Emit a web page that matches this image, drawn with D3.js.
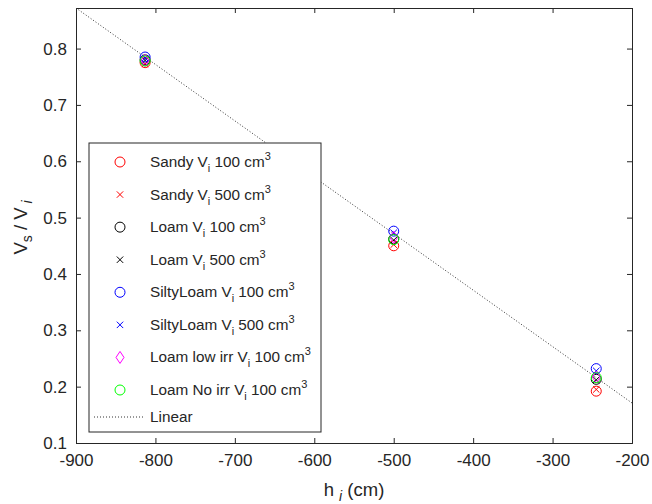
<!DOCTYPE html>
<html>
<head>
<meta charset="utf-8">
<script src="https://cdn.jsdelivr.net/npm/d3@7"></script>
<style>
  body { margin: 0; background: #fff; }
  text { font-family: "Liberation Sans", Arial, sans-serif; fill: #262626; }
</style>
</head>
<body>
<div id="chart"></div>
<script>
// data
const hValues = [-813, -500, -245];
const sandy100 = [0.775, 0.450, 0.192];
const sandy500 = [0.773, 0.452, 0.195];
const loam100 = [0.780, 0.462, 0.213];
const loam500 = [0.779, 0.460, 0.212];
const silty100 = [0.785, 0.476, 0.232];
const silty500 = [0.783, 0.473, 0.228];
const loamLow100 = [0.779, 0.465, 0.217];
const loamNo100 = [0.778, 0.461, 0.216];
const linearX = [-900, -200];
const linearY = [0.872, 0.171];
const xTicks = [-900, -800, -700, -600, -500, -400, -300, -200];
const yTicks = [0.1, 0.2, 0.3, 0.4, 0.5, 0.6, 0.7, 0.8];

const series = [
    { name: "Sandy", vol: "100", values: sandy100, color: "#ff0000", marker: "circle" },
    { name: "Sandy", vol: "500", values: sandy500, color: "#ff0000", marker: "cross" },
    { name: "Loam", vol: "100", values: loam100, color: "#000000", marker: "circle" },
    { name: "Loam", vol: "500", values: loam500, color: "#000000", marker: "cross" },
    { name: "SiltyLoam", vol: "100", values: silty100, color: "#0000ff", marker: "circle" },
    { name: "SiltyLoam", vol: "500", values: silty500, color: "#0000ff", marker: "cross" },
    { name: "Loam low irr", vol: "100", values: loamLow100, color: "#ff00ff", marker: "diamond" },
    { name: "Loam No irr", vol: "100", values: loamNo100, color: "#00ff00", marker: "circle" }
];

const width = 652, height = 504;
const margin = { top: 8, right: 20, bottom: 61, left: 76 };
const plotW = width - margin.left - margin.right;
const plotH = height - margin.top - margin.bottom;

const svg = d3.select("#chart").append("svg")
    .attr("width", width)
    .attr("height", height);

const plot = svg.append("g")
    .attr("transform", `translate(${margin.left},${margin.top})`);

const x = d3.scaleLinear().domain([-900, -200]).range([0, plotW]);
const y = d3.scaleLinear().domain([0.1, 0.872]).range([plotH, 0]);

svg.append("defs").append("clipPath").attr("id", "clip")
    .append("rect").attr("width", plotW).attr("height", plotH);

function drawMarker(g, type, cx, cy, color) {
    if (type === "circle") {
        g.append("circle").attr("cx", cx).attr("cy", cy).attr("r", 5)
            .attr("fill", "none").attr("stroke", color).attr("stroke-width", 1);
    } else if (type === "cross") {
        const s = 3.2;
        g.append("path")
            .attr("d", `M${cx - s},${cy - s}L${cx + s},${cy + s}M${cx - s},${cy + s}L${cx + s},${cy - s}`)
            .attr("stroke", color).attr("stroke-width", 1).attr("fill", "none");
    } else if (type === "diamond") {
        const s = 6;
        g.append("path")
            .attr("d", `M${cx},${cy - s}L${cx + 4},${cy}L${cx},${cy + s}L${cx - 4},${cy}Z`)
            .attr("stroke", color).attr("stroke-width", 1).attr("fill", "none");
    }
}

// axes (ticks inward, box on)
const tickLen = 5;
plot.append("g")
    .attr("transform", `translate(0,${plotH})`)
    .call(d3.axisBottom(x).tickValues(xTicks).tickSize(-tickLen).tickPadding(11).tickFormat(d => String(d)))
    .call(g => g.selectAll("text").attr("dy", "0.71em"));
plot.append("g")
    .call(d3.axisTop(x).tickValues(xTicks).tickSize(-tickLen).tickFormat(""));
plot.append("g")
    .call(d3.axisLeft(y).tickValues(yTicks).tickSize(-tickLen).tickPadding(9).tickFormat(d => d.toFixed(1)));
plot.append("g")
    .attr("transform", `translate(${plotW},0)`)
    .call(d3.axisRight(y).tickValues(yTicks).tickSize(-tickLen).tickFormat(""));
plot.selectAll(".domain, .tick line").attr("stroke", "#262626").attr("stroke-width", 1);
plot.selectAll(".tick text").attr("fill", "#262626").attr("font-size", 17)
    .attr("font-family", "Liberation Sans, Arial, sans-serif");

// linear fit
const data = plot.append("g").attr("clip-path", "url(#clip)");
data.append("path")
    .datum(linearX.map((d, i) => [d, linearY[i]]))
    .attr("d", d3.line().x(d => x(d[0])).y(d => y(d[1])))
    .attr("fill", "none").attr("stroke", "#333").attr("stroke-width", 1)
    .attr("stroke-dasharray", "1,2");

// markers
series.forEach(s => {
    s.values.forEach((v, i) => drawMarker(data, s.marker, x(hValues[i]), y(v), s.color));
});

// axis labels
const xl = svg.append("text")
    .attr("x", margin.left + plotW / 2).attr("y", 496)
    .attr("text-anchor", "middle").attr("font-size", 18.5);
xl.append("tspan").text("h ");
xl.append("tspan").attr("dy", 5).attr("font-size", 14).attr("font-style", "italic").text("i");
xl.append("tspan").attr("dy", -5).text(" (cm)");

const yl = svg.append("text")
    .attr("transform", `translate(27,${margin.top + plotH / 2 + 2}) rotate(-90)`)
    .attr("text-anchor", "middle").attr("font-size", 18.5);
yl.append("tspan").text("V");
yl.append("tspan").attr("dy", 5).attr("font-size", 14).text("s");
yl.append("tspan").attr("dy", -5).text(" / V");
yl.append("tspan").attr("dy", 5).attr("font-size", 14).attr("font-style", "italic").text(" i");

// legend
const legend = svg.append("g");
legend.append("rect")
    .attr("x", 89).attr("y", 143).attr("width", 232).attr("height", 289)
    .attr("fill", "#fff").attr("stroke", "#262626").attr("stroke-width", 1);
const rowY = d3.scaleLinear().domain([0, 7]).range([162, 390]);
series.forEach((s, i) => {
    const cy = rowY(i);
    drawMarker(legend, s.marker, 120, cy, s.color);
    const t = legend.append("text").attr("x", 150).attr("y", cy + 5).attr("font-size", 15.3);
    t.append("tspan").text(s.name + " V");
    t.append("tspan").attr("dy", 5).attr("font-size", 11).text("i");
    t.append("tspan").attr("dy", -5).text(" " + s.vol + " cm");
    t.append("tspan").attr("dy", -7).attr("font-size", 11).text("3");
});
legend.append("line")
    .attr("x1", 94).attr("x2", 145).attr("y1", 417).attr("y2", 417)
    .attr("stroke", "#333").attr("stroke-width", 1).attr("stroke-dasharray", "1,2");
legend.append("text").attr("x", 150).attr("y", 422).attr("font-size", 15.3).text("Linear");
</script>
</body>
</html>
